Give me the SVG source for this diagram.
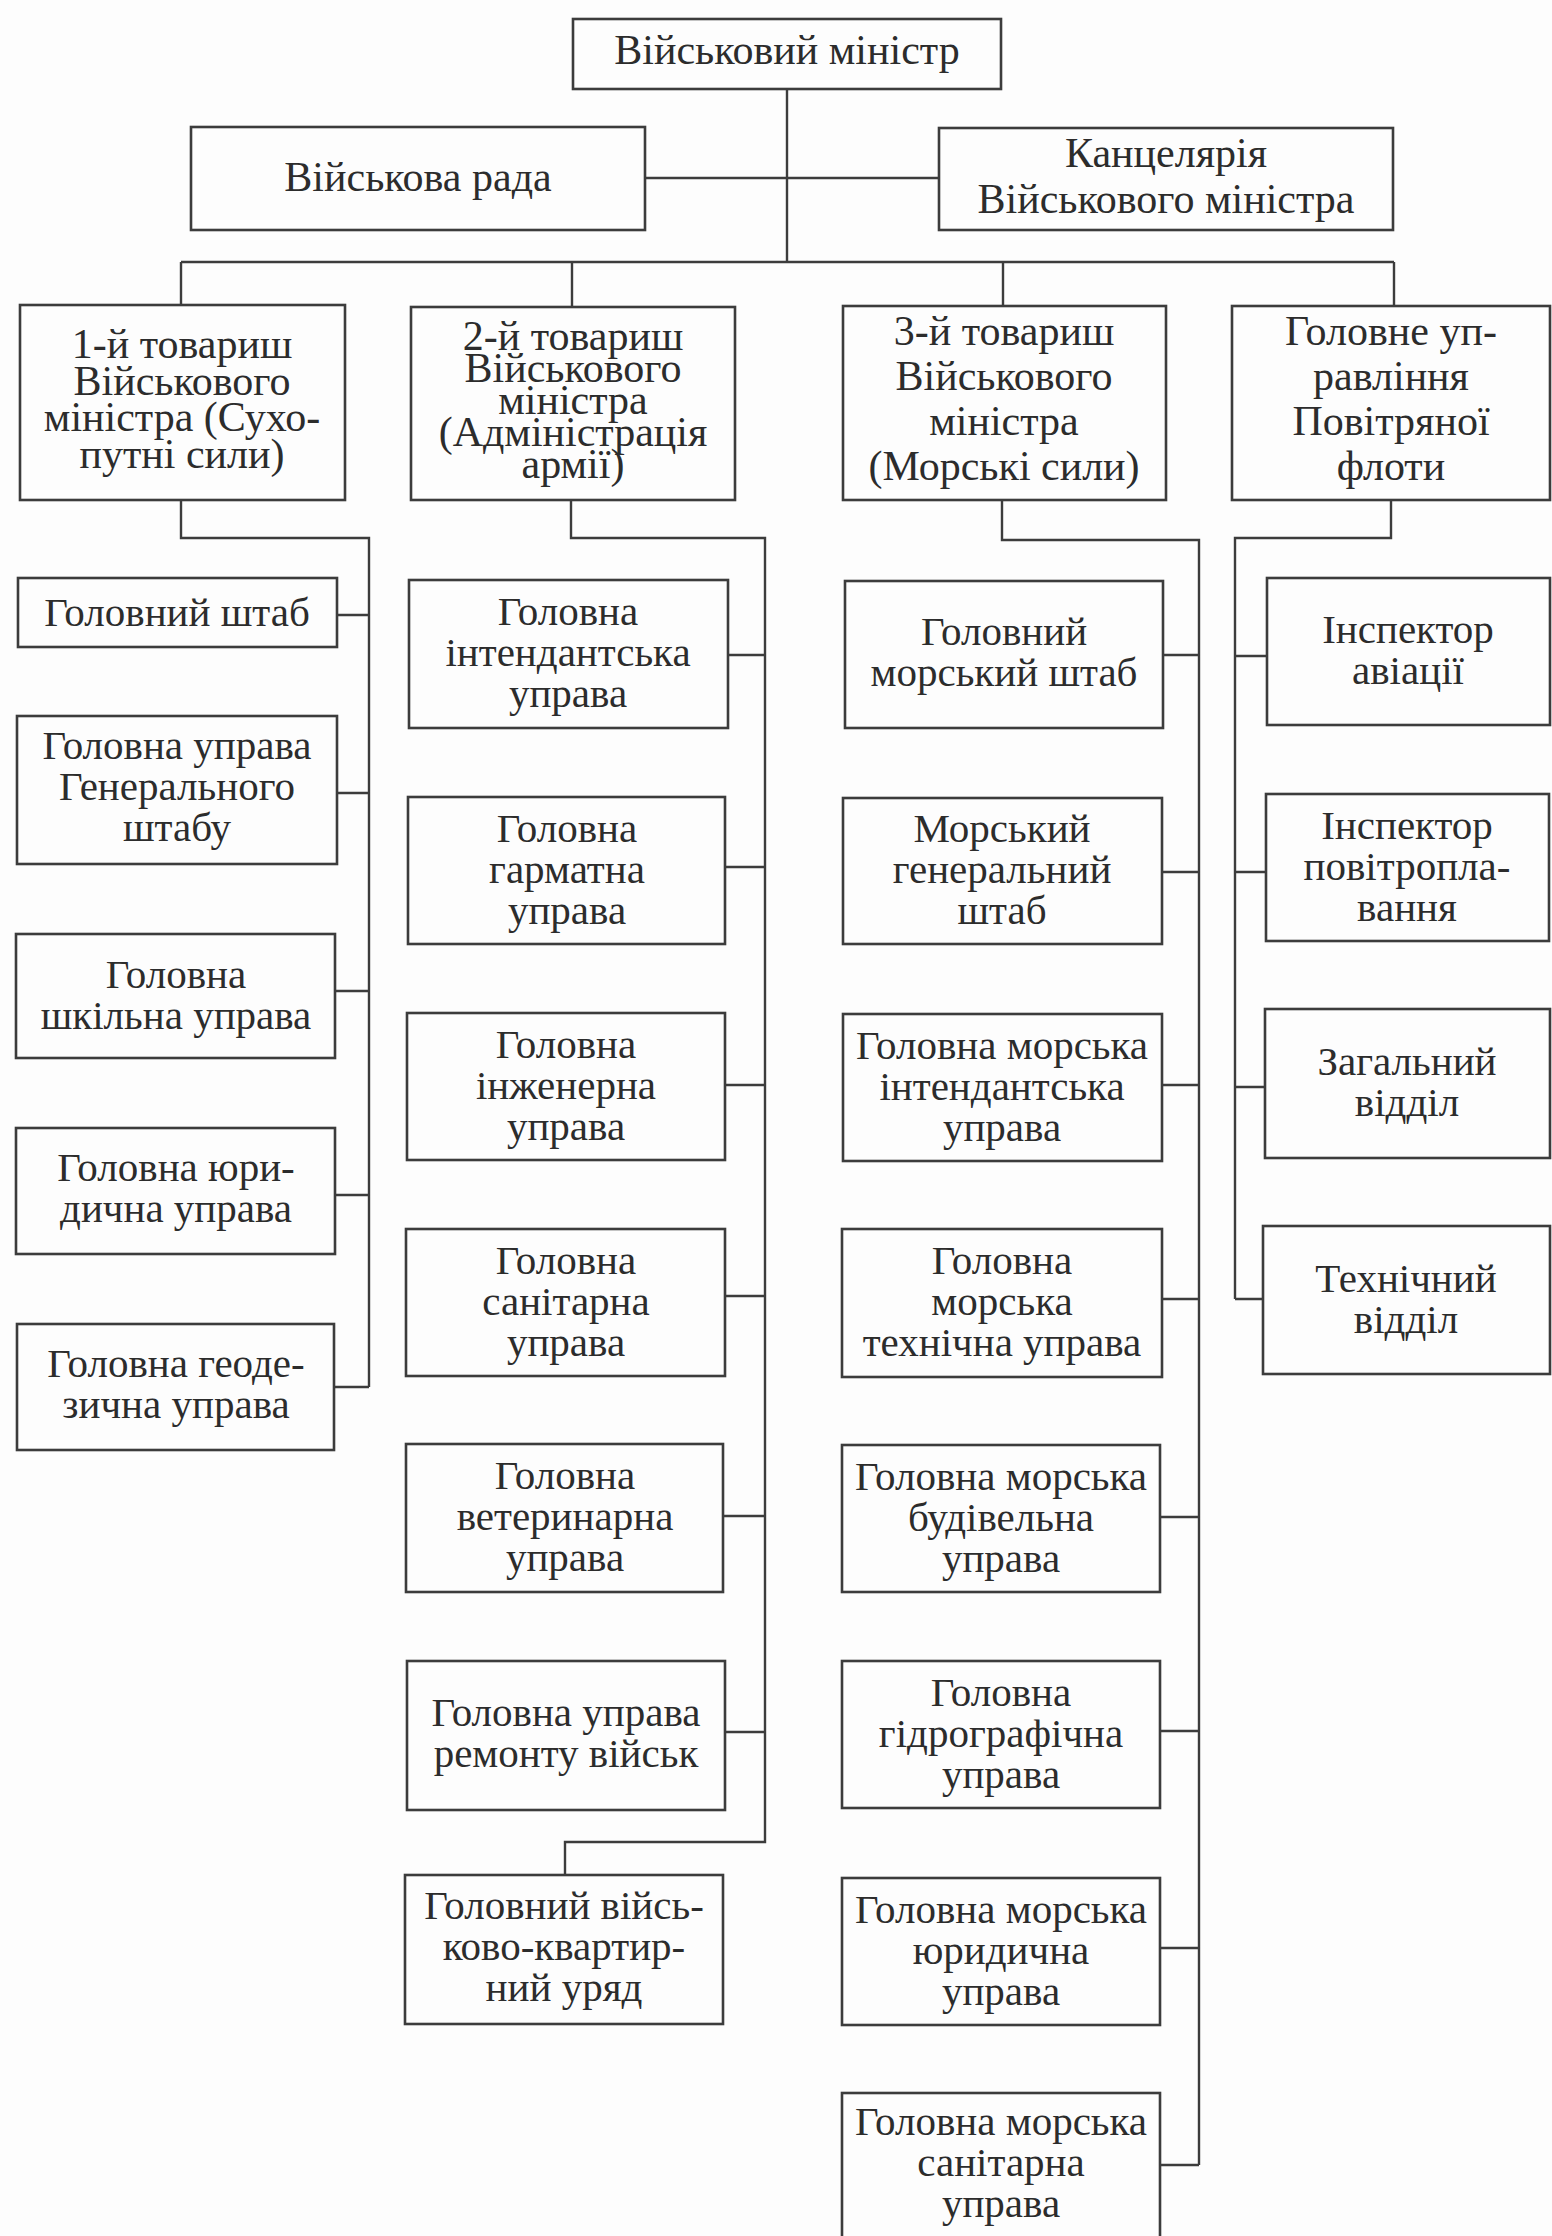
<svg xmlns="http://www.w3.org/2000/svg" width="1552" height="2236" viewBox="0 0 1552 2236">
<style>
.box{fill:none;stroke:#3c3c3c;stroke-width:2.6}
.ln{fill:none;stroke:#3c3c3c;stroke-width:2.4}
.t{font-family:"Liberation Serif","Times New Roman",serif;font-size:42px;fill:#2c2c2c;text-anchor:middle}
.s{font-family:"Liberation Serif","Times New Roman",serif;font-size:41px;fill:#2c2c2c;text-anchor:middle}
</style>
<rect x="0" y="0" width="1552" height="2236" fill="#fdfdfd"/>
<g id="connectors">
<path class="ln" d="M787,89 V262 M645,178 H939 M181,262 H1394 M181,262 V305 M572,262 V307 M1003,262 V306 M1394,262 V306"/>
<path class="ln" d="M181,500 V538 H369 V1387 M337,615 H369 M337,793 H369 M335,991 H369 M335,1195 H369 M334,1387 H369"/>
<path class="ln" d="M571,500 V538 H765 V1842 H565 V1875 M728,655 H765 M725,867 H765 M725,1085 H765 M725,1296 H765 M723,1516 H765 M725,1732 H765"/>
<path class="ln" d="M1002,500 V540 H1199 V2165 M1163,655 H1199 M1162,872 H1199 M1162,1085 H1199 M1162,1299 H1199 M1160,1517 H1199 M1160,1731 H1199 M1160,1948 H1199 M1160,2165 H1199"/>
<path class="ln" d="M1391,500 V538 H1235 V1299 M1235,656 H1267 M1235,872 H1266 M1235,1087 H1265 M1235,1299 H1263"/>
</g>
<g id="n-minister"><rect class="box" x="573" y="19" width="428" height="70"/><text class="t" x="787" y="64">Військовий міністр</text></g>
<g id="n-rada"><rect class="box" x="191" y="127" width="454" height="103"/><text class="t" x="418" y="191">Військова рада</text></g>
<g id="n-kanc"><rect class="box" x="939" y="128" width="454" height="102"/><text class="t" x="1166"><tspan x="1166" y="167">Канцелярія</tspan><tspan x="1166" y="213">Військового міністра</tspan></text></g>
<g id="n-h1"><rect class="box" x="20" y="305" width="325" height="195"/><text class="t"><tspan x="182" y="358">1-й товариш</tspan><tspan x="182" y="394.5">Військового</tspan><tspan x="182" y="431">міністра (Сухо-</tspan><tspan x="182" y="467.5">путні сили)</tspan></text></g>
<g id="n-h2"><rect class="box" x="411" y="307" width="324" height="193"/><text class="t"><tspan x="573" y="350">2-й товариш</tspan><tspan x="573" y="382">Військового</tspan><tspan x="573" y="414">міністра</tspan><tspan x="573" y="446">(Адміністрація</tspan><tspan x="573" y="478">армії)</tspan></text></g>
<g id="n-h3"><rect class="box" x="843" y="306" width="323" height="194"/><text class="t"><tspan x="1004" y="345">3-й товариш</tspan><tspan x="1004" y="390">Військового</tspan><tspan x="1004" y="435">міністра</tspan><tspan x="1004" y="480">(Морські сили)</tspan></text></g>
<g id="n-h4"><rect class="box" x="1232" y="306" width="318" height="194"/><text class="t"><tspan x="1391" y="345">Головне уп-</tspan><tspan x="1391" y="390">равління</tspan><tspan x="1391" y="435">Повітряної</tspan><tspan x="1391" y="480">флоти</tspan></text></g>

<g id="n-c1a"><rect class="box" x="18" y="578" width="319" height="69"/><text class="s"><tspan x="177" y="625.5">Головний штаб</tspan></text></g>
<g id="n-c1b"><rect class="box" x="17" y="716" width="320" height="148"/><text class="s"><tspan x="177" y="759">Головна управа</tspan><tspan x="177" y="800">Генерального</tspan><tspan x="177" y="841">штабу</tspan></text></g>
<g id="n-c1c"><rect class="box" x="16" y="934" width="319" height="124"/><text class="s"><tspan x="176" y="987.5">Головна</tspan><tspan x="176" y="1028.5">шкільна управа</tspan></text></g>
<g id="n-c1d"><rect class="box" x="16" y="1128" width="319" height="126"/><text class="s"><tspan x="176" y="1181">Головна юри-</tspan><tspan x="176" y="1222">дична управа</tspan></text></g>
<g id="n-c1e"><rect class="box" x="17" y="1324" width="317" height="126"/><text class="s"><tspan x="176" y="1377">Головна геоде-</tspan><tspan x="176" y="1418">зична управа</tspan></text></g>

<g id="n-c2a"><rect class="box" x="409" y="580" width="319" height="148"/><text class="s"><tspan x="568" y="625">Головна</tspan><tspan x="568" y="666">інтендантська</tspan><tspan x="568" y="707">управа</tspan></text></g>
<g id="n-c2b"><rect class="box" x="408" y="797" width="317" height="147"/><text class="s"><tspan x="567" y="841.5">Головна</tspan><tspan x="567" y="882.5">гарматна</tspan><tspan x="567" y="923.5">управа</tspan></text></g>
<g id="n-c2c"><rect class="box" x="407" y="1013" width="318" height="147"/><text class="s"><tspan x="566" y="1057.5">Головна</tspan><tspan x="566" y="1098.5">інженерна</tspan><tspan x="566" y="1139.5">управа</tspan></text></g>
<g id="n-c2d"><rect class="box" x="406" y="1229" width="319" height="147"/><text class="s"><tspan x="566" y="1273.5">Головна</tspan><tspan x="566" y="1314.5">санітарна</tspan><tspan x="566" y="1355.5">управа</tspan></text></g>
<g id="n-c2e"><rect class="box" x="406" y="1444" width="317" height="148"/><text class="s"><tspan x="565" y="1489">Головна</tspan><tspan x="565" y="1530">ветеринарна</tspan><tspan x="565" y="1571">управа</tspan></text></g>
<g id="n-c2f"><rect class="box" x="407" y="1661" width="318" height="149"/><text class="s"><tspan x="566" y="1726">Головна управа</tspan><tspan x="566" y="1767">ремонту військ</tspan></text></g>
<g id="n-c2g"><rect class="box" x="405" y="1875" width="318" height="149"/><text class="s"><tspan x="564" y="1919">Головний війсь-</tspan><tspan x="564" y="1960">ково-квартир-</tspan><tspan x="564" y="2001">ний уряд</tspan></text></g>

<g id="n-c3a"><rect class="box" x="845" y="581" width="318" height="147"/><text class="s"><tspan x="1004" y="645">Головний</tspan><tspan x="1004" y="686">морський штаб</tspan></text></g>
<g id="n-c3b"><rect class="box" x="843" y="798" width="319" height="146"/><text class="s"><tspan x="1002" y="842">Морський</tspan><tspan x="1002" y="883">генеральний</tspan><tspan x="1002" y="924">штаб</tspan></text></g>
<g id="n-c3c"><rect class="box" x="843" y="1014" width="319" height="147"/><text class="s"><tspan x="1002" y="1058.5">Головна морська</tspan><tspan x="1002" y="1099.5">інтендантська</tspan><tspan x="1002" y="1140.5">управа</tspan></text></g>
<g id="n-c3d"><rect class="box" x="842" y="1229" width="320" height="148"/><text class="s"><tspan x="1002" y="1274">Головна</tspan><tspan x="1002" y="1315">морська</tspan><tspan x="1002" y="1356">технічна управа</tspan></text></g>
<g id="n-c3e"><rect class="box" x="842" y="1445" width="318" height="147"/><text class="s"><tspan x="1001" y="1489.5">Головна морська</tspan><tspan x="1001" y="1530.5">будівельна</tspan><tspan x="1001" y="1571.5">управа</tspan></text></g>
<g id="n-c3f"><rect class="box" x="842" y="1661" width="318" height="147"/><text class="s"><tspan x="1001" y="1705.5">Головна</tspan><tspan x="1001" y="1746.5">гідрографічна</tspan><tspan x="1001" y="1787.5">управа</tspan></text></g>
<g id="n-c3g"><rect class="box" x="842" y="1878" width="318" height="147"/><text class="s"><tspan x="1001" y="1922.5">Головна морська</tspan><tspan x="1001" y="1963.5">юридична</tspan><tspan x="1001" y="2004.5">управа</tspan></text></g>
<g id="n-c3h"><rect class="box" x="842" y="2093" width="318" height="148"/><text class="s"><tspan x="1001" y="2135">Головна морська</tspan><tspan x="1001" y="2176">санітарна</tspan><tspan x="1001" y="2217">управа</tspan></text></g>

<g id="n-c4a"><rect class="box" x="1267" y="578" width="283" height="147"/><text class="s"><tspan x="1408" y="643">Інспектор</tspan><tspan x="1408" y="684">авіації</tspan></text></g>
<g id="n-c4b"><rect class="box" x="1266" y="794" width="283" height="147"/><text class="s"><tspan x="1407" y="838.5">Інспектор</tspan><tspan x="1407" y="879.5">повітропла-</tspan><tspan x="1407" y="920.5">вання</tspan></text></g>
<g id="n-c4c"><rect class="box" x="1265" y="1009" width="285" height="149"/><text class="s"><tspan x="1407" y="1075">Загальний</tspan><tspan x="1407" y="1116">відділ</tspan></text></g>
<g id="n-c4d"><rect class="box" x="1263" y="1226" width="287" height="148"/><text class="s"><tspan x="1406" y="1291.5">Технічний</tspan><tspan x="1406" y="1332.5">відділ</tspan></text></g>
</svg>
